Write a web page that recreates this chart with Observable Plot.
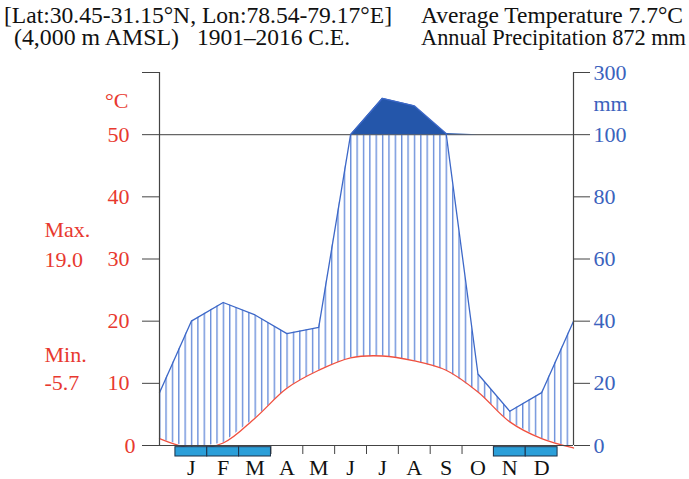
<!DOCTYPE html>
<html>
<head>
<meta charset="utf-8">
<script src="https://cdn.jsdelivr.net/npm/d3@7"></script>
<script src="https://cdn.jsdelivr.net/npm/@observablehq/plot@0.6"></script>
<style>
  html, body { margin: 0; padding: 0; background: white; }
  #wrap { width: 689px; height: 479px; position: relative; overflow: hidden; }
  #hdr { position: relative; height: 60px; font-family: "Liberation Serif", serif; font-size: 23px; color: #111; }
  #hdr div { position: absolute; white-space: nowrap; line-height: 21px; transform-origin: 0 0; }
  svg { display: block; }
</style>
</head>
<body>
<div id="wrap">
  <div id="hdr"></div>
  <div id="chart"></div>
</div>
<script>
// ---- data ----
const monthLabels = ["J","F","M","A","M","J","J","A","S","O","N","D"];
const tempC = [-0.4, 0.4, 4.4, 9.2, 12.1, 14.1, 14.4, 13.6, 12.1, 8.6, 3.8, 1.1];
const precipMm = [40, 46, 42, 36, 38, 100, 217, 193, 104, 23, 11, 17];
const frostMonth = [1, 1, 1, 0, 0, 0, 0, 0, 0, 0, 1, 1];
const tempTicks = [0, 10, 20, 30, 40, 50, 60];
const precipTicks = [0, 20, 40, 60, 80, 100, 300];
const headerLeft = ["[Lat:30.45-31.15°N, Lon:78.54-79.17°E]", "(4,000 m AMSL)", "1901–2016 C.E."];
const headerRight = ["Average Temperature 7.7°C", "Annual Precipitation 872 mm"];
const sideLabels = ["Max.", "19.0", "Min.", "-5.7"];
const sideLabelY = [34.6, 29.8, 14.5, 10.0];

// ---- colours ----
const RED = "#e8392f", REDLINE = "#f0503f", BLUE = "#3b62bd", LINEBLUE = "#3d68c8",
      HATCH = "#5f86d8", DARK = "#2456aa", AX = "#444", FROST = "#2b9fd9";

// ---- header (each line fitted to the width it has in the reference) ----
const hdr = document.getElementById("hdr");
function addText(t, left, top, width) {
  const d = document.createElement("div");
  d.textContent = t; d.style.left = left + "px"; d.style.top = top + "px";
  hdr.appendChild(d);
  const w = d.getBoundingClientRect().width;
  if (w > 0) d.style.transform = `scaleX(${width / w})`;
}
addText(headerLeft[0], 4, 5, 388);
addText(headerLeft[1], 14, 26.7, 165);
addText(headerLeft[2], 197, 26.7, 153);
addText(headerRight[0], 421, 5, 262);
addText(headerRight[1], 421, 26.7, 265);

// Walter–Lieth precipitation scale: 20 mm = 10 °C up to 100 mm, then 200 mm = 10 °C
const conv = mm => mm <= 100 ? mm / 2 : 50 + (mm - 100) / 20;
const inv = c => c <= 50 ? Math.round(c * 2) : Math.round(100 + (c - 50) * 20);

// rows 0..13: previous Dec, Jan..Dec, next Jan
const rows = d3.range(14).map(i => {
  const m = (i + 11) % 12;
  return {x: i, t: tempC[m], p: precipMm[m]};
});
const frostRows = d3.range(12).filter(m => frostMonth[m]).map(m => ({i: m + 1}));
const boundaries = d3.range(3.5, 11, 1);

const plot = Plot.plot({
  width: 689, height: 419,
  marginLeft: 159, marginRight: 116, marginTop: 12, marginBottom: 34,
  x: {domain: [0, 13], axis: null},
  y: {domain: [0, 60], axis: null},
  style: {fontFamily: "Liberation Serif, serif", fontSize: "22px", background: "white", overflow: "visible"},
  marks: [
    Plot.areaY(rows, {x: "x", y1: "t", y2: d => Math.min(conv(d.p), 50), fill: "url(#hatch)"}),
    Plot.ruleY([50], {stroke: "#666", strokeWidth: 1.2}),
    Plot.areaY(rows, {x: "x", y1: 50, y2: d => Math.max(conv(d.p), 50), fill: DARK}),
    Plot.line(rows, {x: "x", y: d => conv(d.p), stroke: LINEBLUE, strokeWidth: 1.3}),
    Plot.line(rows, {x: "x", y: "t", stroke: REDLINE, strokeWidth: 1.3, curve: "catmull-rom"}),
    Plot.ruleX([0, 13], {y1: 0, y2: 60, stroke: AX, strokeWidth: 1.2}),
    Plot.ruleY([0], {stroke: AX, strokeWidth: 1.2}),
    Plot.axisY(tempTicks, {anchor: "left", label: null, tickSize: 17, tickPadding: 13,
      tickFormat: d => (d === 60 || d === 0) ? "" : d, stroke: AX, fill: RED, fontSize: 22}),
    Plot.text(tempTicks.filter(d => d === 0), {x: 0, y: d => d, dx: -24, text: d => String(d),
      textAnchor: "end", fill: RED, fontSize: 22}),
    Plot.axisY(precipTicks.map(conv), {anchor: "right", label: null, tickSize: 16, tickPadding: 4,
      tickFormat: inv, stroke: AX, fill: BLUE, fontSize: 22}),
    Plot.axisX(boundaries, {anchor: "bottom", label: null, tickSize: 9, tickFormat: () => "", stroke: AX}),
    Plot.axisX(d3.range(1, 13), {anchor: "bottom", label: null, tickSize: 0, tickPadding: 14,
      tickFormat: d => monthLabels[d - 1], fill: "#111", fontSize: 22}),
    Plot.rect(frostRows, {x1: d => d.i - 0.5, x2: d => d.i + 0.5, y1: -0.27, y2: -1.77,
      fill: FROST, stroke: "#1d3148", strokeWidth: 1}),
    Plot.text(["°C"], {x: 0, y: 55.5, dx: -31, text: d => d, textAnchor: "end", fill: RED, fontSize: 22}),
    Plot.text(["mm"], {x: 13, y: 55, dx: 20, text: d => d, textAnchor: "start", fill: BLUE, fontSize: 22}),
    Plot.text(sideLabels, {x: 0, y: (d, i) => sideLabelY[i], dx: -115, text: d => d, textAnchor: "start", fill: RED, fontSize: 22})
  ]
});

// hatch pattern aligned on the x scale (5 lines per month)
const xs = plot.scale("x");
const step = (xs.apply(1) - xs.apply(0)) / 5;
const ns = "http://www.w3.org/2000/svg";
const defs = document.createElementNS(ns, "defs");
const pat = document.createElementNS(ns, "pattern");
pat.setAttribute("id", "hatch");
pat.setAttribute("patternUnits", "userSpaceOnUse");
pat.setAttribute("x", xs.apply(0));
pat.setAttribute("y", 0);
pat.setAttribute("width", step);
pat.setAttribute("height", 20);
const ln = document.createElementNS(ns, "line");
ln.setAttribute("x1", 0.7); ln.setAttribute("x2", 0.7);
ln.setAttribute("y1", 0); ln.setAttribute("y2", 20);
ln.setAttribute("stroke", HATCH); ln.setAttribute("stroke-width", 1.3);
pat.appendChild(ln);
defs.appendChild(pat);
plot.insertBefore(defs, plot.firstChild);

document.getElementById("chart").appendChild(plot);
</script>
</body>
</html>
